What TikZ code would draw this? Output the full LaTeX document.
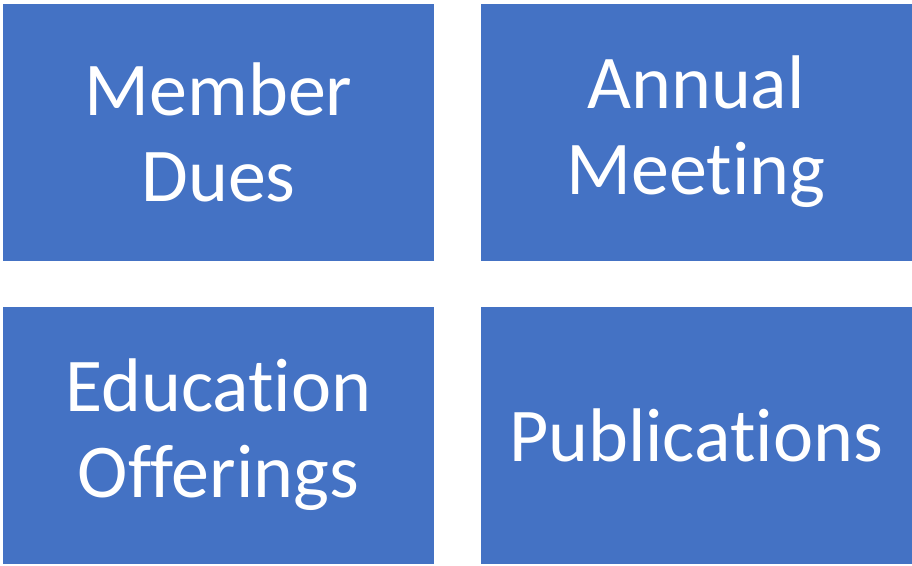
\documentclass[tikz,border=0pt]{standalone}
\usepackage{fontspec}
\setmainfont{Carlito}[Ligatures=CommonOff]
\usepackage{tikz}

\definecolor{tileblue}{RGB}{68,114,196}

\begin{document}
\begin{tikzpicture}[x=1pt, y=1pt,
    tile/.style={rectangle, fill=tileblue, draw=none, minimum width=431pt,
      minimum height=257pt, inner sep=0pt, text=white, align=center,
      font=\fontsize{76}{86}\selectfont}]
    \useasboundingbox (0, 0) rectangle (912, -565);

    \node[tile] (dues) at (218.5, -132) {Member\\Dues};
    \node[tile] (meeting) at (696, -132) {Annual\\Meeting};

    \node[tile] (education) at (218.5, -435) {Education\\Offerings};
    \node[tile] (publications) at (696, -435) {Publications};
  \end{tikzpicture}
\end{document}
